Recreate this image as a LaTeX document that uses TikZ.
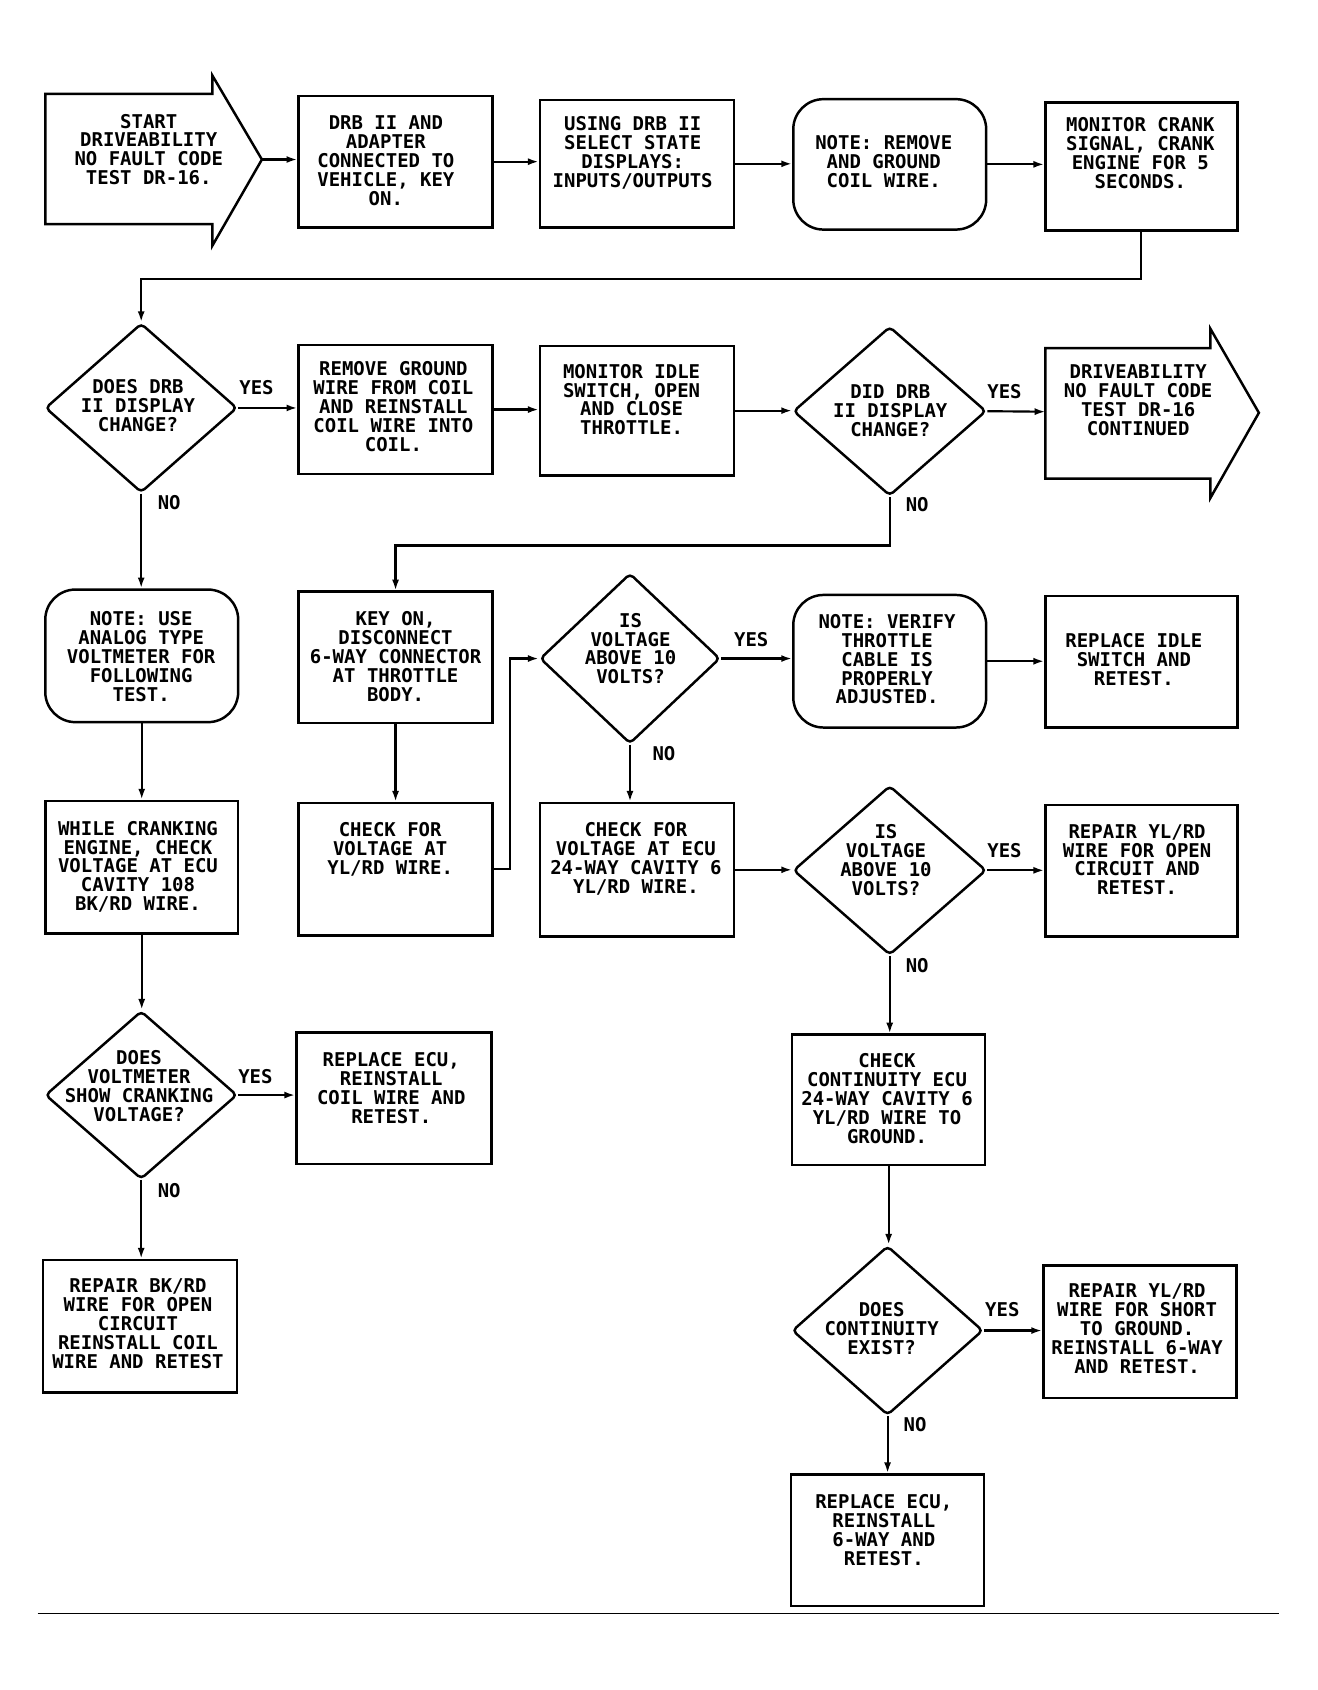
\documentclass[tikz,border=0pt]{standalone}
\usepackage{fontspec}
\newfontfamily\plotfont{DejaVu Sans Mono}
\usetikzlibrary{shapes.geometric,arrows.meta}
\begin{document}
\begin{tikzpicture}[x=1pt,y=-1pt,
  every node/.style={inner sep=0pt},
  box/.style={draw,line width=2.3pt},
  sz/.style 2 args={minimum width=#1pt,minimum height=#2pt},
  note/.style={draw,line width=2.3pt,rounded corners=28pt},
  dia/.style={diamond,draw,line width=2.3pt,rounded corners=4pt},
  txt/.style={anchor=north,align=center,font=\plotfont\bfseries\fontsize{17.6}{17.6}\selectfont},
  lbl/.style={font=\plotfont\bfseries\fontsize{17.6}{17.6}\selectfont},
  arr/.style={line width=2pt,-{Latex[length=10pt,width=6.5pt]}},
  ln/.style={line width=2pt}]
\fill[white] (0,0) rectangle (1222,1568);
\useasboundingbox (0,0) rectangle (1222,1568);

% ---------- row 1
\draw[box] (42,87) -- (197,87) -- (197,70) -- (243,148) -- (197,228) -- (197,208) -- (42,208) -- cycle;
\coordinate (starttip) at (243,148);
\node[txt] (tstart) at (138,105.5) {START\\DRIVEABILITY\\NO FAULT CODE\\TEST DR-16.};

\node[box,sz={180}{122}] (bdrb) at (367,150) {};
\node[txt] (tdrb) at (358,107.5) {DRB II AND\\ADAPTER\\CONNECTED TO\\VEHICLE, KEY\\ON.};

\node[box,sz={180}{118}] (busing) at (591,152) {};
\node[txt] (tusing) at (587,107.5) {USING DRB II\\SELECT STATE\\DISPLAYS:\\INPUTS/OUTPUTS};

\node[note,sz={179}{121}] (note1) at (825.5,152.5) {};
\node[txt] (tnote1) at (820,125.5) {NOTE: REMOVE\\AND GROUND\\COIL WIRE.};

\node[box,sz={178}{119}] (bmon) at (1059,154.5) {};
\node[txt] (tmon) at (1058,108.5) {MONITOR CRANK\\SIGNAL, CRANK\\ENGINE FOR 5\\SECONDS.};

% ---------- row 2
\node[dia,sz={178}{157}] (d1) at (131,378.5) {};
\node[txt] (td1) at (128,351.5) {DOES DRB\\II DISPLAY\\CHANGE?};

\node[box,sz={180}{120}] (bremove) at (367,380) {};
\node[txt] (tremove) at (365,335.5) {REMOVE GROUND\\WIRE FROM COIL\\AND REINSTALL\\COIL WIRE INTO\\COIL.};

\node[box,sz={180}{120}] (bidle) at (591,381) {};
\node[txt] (tidle) at (586,337.5) {MONITOR IDLE\\SWITCH, OPEN\\AND CLOSE\\THROTTLE.};

\node[dia,sz={179}{157}] (d2) at (825.5,381.5) {};
\node[txt] (td2) at (826,356.5) {DID DRB\\II DISPLAY\\CHANGE?};

\draw[box] (970,323) -- (1123,323) -- (1123,305) -- (1168,383) -- (1123,462) -- (1123,444) -- (970,444) -- cycle;
\coordinate (conttail) at (970,382);
\node[txt] (tcont) at (1056,338.5) {DRIVEABILITY\\NO FAULT CODE\\TEST DR-16\\CONTINUED};

% ---------- row 3
\node[note,sz={179}{123}] (note2) at (131.5,608.5) {};
\node[txt] (tnote2) at (131,567.5) {NOTE: USE\\ANALOG TYPE\\VOLTMETER FOR\\FOLLOWING\\TEST.};

\node[box,sz={180}{122}] (bkey) at (367,610) {};
\node[txt] (tkey) at (367,567.5) {KEY ON,\\DISCONNECT\\6-WAY CONNECTOR\\AT THROTTLE\\BODY.};

\node[dia,sz={167}{158}] (d3) at (584.5,611) {};
\node[txt] (td3) at (585,568.5) {IS\\VOLTAGE\\ABOVE 10\\VOLTS?};

\node[note,sz={179}{123}] (note3) at (825.5,613.5) {};
\node[txt] (tnote3) at (823,569.5) {NOTE: VERIFY\\THROTTLE\\CABLE IS\\PROPERLY\\ADJUSTED.};

\node[box,sz={178}{122}] (brepidle) at (1059,614) {};
\node[txt] (trepidle) at (1052,587.5) {REPLACE IDLE\\SWITCH AND\\RETEST.};

% ---------- row 4
\node[box,sz={179}{123}] (bwhile) at (131.5,804.5) {};
\node[txt] (twhile) at (128,761.5) {WHILE CRANKING\\ENGINE, CHECK\\VOLTAGE AT ECU\\CAVITY 108\\BK/RD WIRE.};

\node[box,sz={180}{123}] (bchk1) at (367,806.5) {};
\node[txt] (tchk1) at (362,762.5) {CHECK FOR\\VOLTAGE AT\\YL/RD WIRE.};

\node[box,sz={180}{124}] (bchk2) at (591,807) {};
\node[txt] (tchk2) at (590,762.5) {CHECK FOR\\VOLTAGE AT ECU\\24-WAY CAVITY 6\\YL/RD WIRE.};

\node[dia,sz={179}{157}] (d4) at (825.5,807.5) {};
\node[txt] (td4) at (822,764.5) {IS\\VOLTAGE\\ABOVE 10\\VOLTS?};

\node[box,sz={178}{122}] (brepopen) at (1059,808) {};
\node[txt] (trepopen) at (1055,764.5) {REPAIR YL/RD\\WIRE FOR OPEN\\CIRCUIT AND\\RETEST.};

% ---------- row 5
\node[dia,sz={178}{156}] (d5) at (131,1016) {};
\node[txt] (td5) at (129,974.5) {DOES\\VOLTMETER\\SHOW CRANKING\\VOLTAGE?};

\node[box,sz={181}{122}] (brepecu1) at (365.5,1019) {};
\node[txt] (trepecu1) at (363,976.5) {REPLACE ECU,\\REINSTALL\\COIL WIRE AND\\RETEST.};

\node[box,sz={180}{123}] (brepbk) at (130,1230.5) {};
\node[txt] (trepbk) at (128,1186.5) {REPAIR BK/RD\\WIRE FOR OPEN\\CIRCUIT\\REINSTALL COIL\\WIRE AND RETEST};

\node[box,sz={179}{121}] (bchkcont) at (824.5,1020.5) {};
\node[txt] (tchkcont) at (823,977.5) {CHECK\\CONTINUITY ECU\\24-WAY CAVITY 6\\YL/RD WIRE TO\\GROUND.};

\node[dia,sz={177}{157}] (d6) at (823.5,1234.5) {};
\node[txt] (td6) at (818,1208.5) {DOES\\CONTINUITY\\EXIST?};

\node[box,sz={179}{123}] (brepshort) at (1057.5,1235.5) {};
\node[txt] (trepshort) at (1055,1190.5) {REPAIR YL/RD\\WIRE FOR SHORT\\TO GROUND.\\REINSTALL 6-WAY\\AND RETEST.};

\node[box,sz={179}{122}] (brepecu2) at (823.5,1429) {};
\node[txt] (trepecu2) at (820,1386.5) {REPLACE ECU,\\REINSTALL\\6-WAY AND\\RETEST.};

% ---------- labels
\node[lbl] (y1) at (238,360) {YES};
\node[lbl] (n1) at (157,466) {NO};
\node[lbl] (y2) at (932,363) {YES};
\node[lbl] (n2) at (851,468) {NO};
\node[lbl] (y3) at (697,593) {YES};
\node[lbl] (n3) at (616,699) {NO};
\node[lbl] (y4) at (932,789) {YES};
\node[lbl] (n4) at (851,896) {NO};
\node[lbl] (y5) at (237,999) {YES};
\node[lbl] (n5) at (157,1105) {NO};
\node[lbl] (y6) at (930,1215) {YES};
\node[lbl] (n6) at (849,1322) {NO};

% ---------- connectors
\draw[arr] (starttip) -- (starttip -| bdrb.west);
\draw[arr] (bdrb.east) -- (bdrb.east -| busing.west);
\draw[arr] (busing.east) -- (busing.east -| note1.west);
\draw[arr] (note1.east) -- (note1.east -| bmon.west);
\draw[arr] (bmon.south) -- ++(0,44) -| (d1.north);

\draw[arr] (d1.east) -- (d1.east -| bremove.west);
\draw[arr] (bremove.east) -- (bremove.east -| bidle.west);
\draw[arr] (bidle.east) -- (bidle.east -| d2.west);
\draw[arr] (d2.east) -- (conttail);
\draw[arr] (d1.south) -- (d1.south |- note2.north);
\draw[arr] (d2.south) -- ++(0,45) -| (bkey.north);

\draw[arr] (d3.east) -- (d3.east -| note3.west);
\draw[arr] (note3.east) -- (note3.east -| brepidle.west);
\draw[arr] (note2.south) -- (note2.south |- bwhile.north);
\draw[arr] (bkey.south) -- (bkey.south |- bchk1.north);
\draw[arr] (bchk1.east) -- ++(15,0) |- (d3.west);
\draw[arr] (d3.south) -- (d3.south |- bchk2.north);

\draw[arr] (bchk2.east) -- (bchk2.east -| d4.west);
\draw[arr] (d4.east) -- (d4.east -| brepopen.west);
\draw[arr] (d4.south) -- (d4.south |- bchkcont.north);
\draw[arr] (bwhile.south) -- (bwhile.south |- d5.north);

\draw[arr] (d5.east) -- (d5.east -| brepecu1.west);
\draw[arr] (d5.south) -- (d5.south |- brepbk.north);
\draw[arr] (bchkcont.south) -- (bchkcont.south |- d6.north);
\draw[arr] (d6.east) -- (d6.east -| brepshort.west);
\draw[arr] (d6.south) -- (d6.south |- brepecu2.north);

% ---------- bottom rule
\coordinate (rl) at (35,1497);
\coordinate (rr) at (1187,1497);
\draw[line width=1.3pt] (rl) -- (rr);
\end{tikzpicture}
\end{document}
